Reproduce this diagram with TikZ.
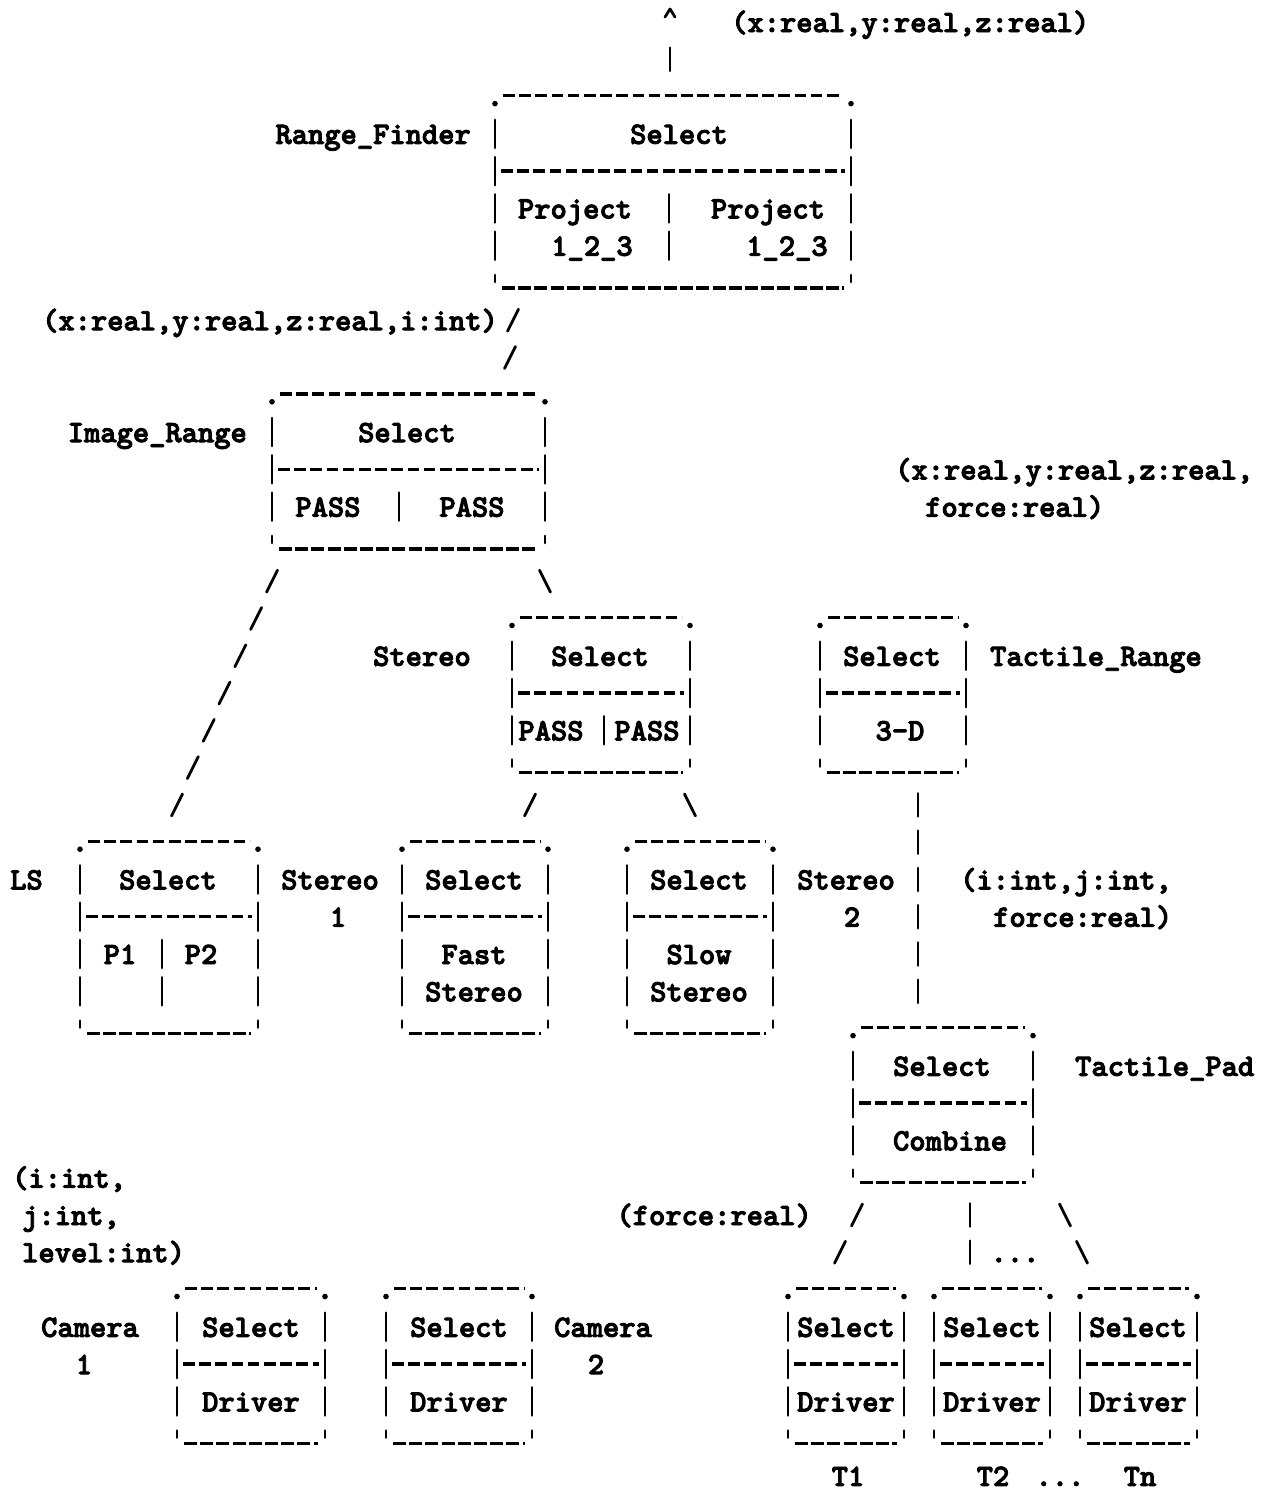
\documentclass[tikz,border=0pt]{standalone}
\usepackage{fontspec}
\newfontfamily\tyfont{lmmonolt10-bold}[Extension=.otf,FakeBold=3]
\usetikzlibrary{calc,fit}
\tikzset{
  gl/.style={line width=2.8pt, line cap=round},
  topdash/.style={line width=3.4pt, dash pattern=on 11.5pt off 4.7pt},
  botdash/.style={line width=3.4pt, dash pattern=on 13pt off 3.2pt},
  tx/.style={font=\tyfont\fontsize{31}{31}\selectfont, anchor=base, inner sep=0pt, yshift=-10pt},
  txw/.style={tx, anchor=base west},
  txe/.style={tx, anchor=base east},
  fslash/.pic={\draw[gl] (-5.5,11) -- (5.5,-11);},
  bslash/.pic={\draw[gl] (-5.5,-11) -- (5.5,11);},
  vbar/.pic={\draw[gl] (0,-11.5) -- (0,11.5);},
  caret/.pic={\draw[gl, line join=round] (-5,4) -- (0,-4) -- (5,4);},
}
% box: name, left x, right x, top y, number of row steps to bottom line
\newcommand\abox[5]{%
  \pgfmathsetmacro\ybot{#4+37.28*#5}%
  \pgfmathtruncatemacro\nrows{#5-1}%
  \coordinate (#1-nw) at (#2,#4);
  \coordinate (#1-se) at (#3,\ybot);
  \node[fit=(#1-nw)(#1-se), inner sep=0pt, outer sep=0pt] (#1) {};
  \draw[topdash] (#2+8,#4-1) -- (#3-8,#4-1);
  \fill (#2,#4+7) circle[radius=2.8pt] (#3,#4+7) circle[radius=2.8pt];
  \draw[botdash] (#2+7,\ybot+5) -- (#3-7,\ybot+5);
  \draw[gl] (#2,\ybot-8) -- (#2,\ybot-1) (#3,\ybot-8) -- (#3,\ybot-1);
  \foreach \k in {1,...,\nrows}{\draw[gl] (#2,#4+37.28*\k-14) -- (#2,#4+37.28*\k+14) (#3,#4+37.28*\k-14) -- (#3,#4+37.28*\k+14);}
}
\newcommand\adiv[2]{\draw[topdash] ($(#1.west|-0,#2)+(6,0)$) -- ($(#1.east|-0,#2)+(-6,0)$);}
\newcommand\ibar[2]{\draw[gl] (#1,#2-14) -- (#1,#2+14);}
\newcommand\grun[4]{\foreach \k in {0,...,#3}{\path ($(#1)!{\k/#3}!(#2)$) pic{#4};}}
\begin{document}
\begin{tikzpicture}[x=1pt,y=-1pt]
\fill[white] (0,0) rectangle (1265,1491);
\useasboundingbox (0,0) rectangle (1265,1491);

% ---------- output of Range_Finder
\coordinate (outcaret) at (670,13);
\coordinate (outbar) at (670,59.3);
\path (outcaret) pic{caret};
\path (outbar) pic{vbar};
\node[txw] (lab-out) at (731,22) {(x:real,y:real,z:real)};

% ---------- Range_Finder
\abox{rf}{495}{851}{96.6}{5}
\adiv{rf}{171.1}
\ibar{669}{208.4}\ibar{669}{245.7}
\node[txe] (lab-rf) at (471,133.8) {Range\_Finder};
\node[tx] (rf-sel) at (679,133.8) {Select};
\node[tx] (rf-p1) at (575,208.4) {Project};
\node[tx] (rf-p2) at (768,208.4) {Project};
\node[tx] (rf-n1) at (592,245.7) {1\_2\_3};
\node[tx] (rf-n2) at (787,245.7) {1\_2\_3};

\node[tx] (lab-rfin) at (270,320.2) {(x:real,y:real,z:real,i:int)};
\coordinate (a1) at (513,320.2);
\coordinate (a2) at (510,357.5);
\grun{a1}{a2}{1}{fslash}

% ---------- Image_Range
\abox{ir}{272}{545}{394.8}{4}
\adiv{ir}{469.4}
\ibar{399}{506.6}
\node[txe] (lab-ir) at (247,432.1) {Image\_Range};
\node[tx] (ir-sel) at (407,432.1) {Select};
\node[tx] (ir-p1) at (328,506.6) {PASS};
\node[tx] (ir-p2) at (472,506.6) {PASS};

\node[txw] (lab-trin1) at (895,469.4) {(x:real,y:real,z:real,};
\node[txw] (lab-trin2) at (925,506.6) {force:real)};

\coordinate (b1) at (272,581.2);
\coordinate (b2) at (177,804.9);
\grun{b1}{b2}{6}{fslash}
\coordinate (c1) at (545,581.2);
\path (c1) pic{bslash};

% ---------- Stereo
\abox{st}{512}{690}{618.5}{4}
\adiv{st}{693.0}
\ibar{604}{730.3}
\node[txe] (lab-st) at (471,655.8) {Stereo};
\node[tx] (st-sel) at (600,655.8) {Select};
\node[tx] (st-p1) at (551,730.3) {PASS};
\node[tx] (st-p2) at (647,730.3) {PASS};

% ---------- Tactile_Range
\abox{tr}{820}{966}{618.5}{4}
\adiv{tr}{693.0}
\node[tx] (tr-sel) at (892,655.8) {Select};
\node[tx] (tr-3d) at (900,730.3) {3-D};
\node[txw] (lab-tr) at (990,655.8) {Tactile\_Range};

\coordinate (d1) at (530,804.9);
\path (d1) pic{fslash};
\coordinate (e1) at (690,804.9);
\path (e1) pic{bslash};
\coordinate (f1) at (918,804.9);
\coordinate (f2) at (918,991.3);
\grun{f1}{f2}{5}{vbar}

% ---------- LS
\abox{ls}{80}{258}{842.2}{5}
\adiv{ls}{916.7}
\ibar{162}{954.0}\ibar{162}{991.3}
\node[txw] (lab-ls) at (10,879.4) {LS};
\node[tx] (ls-sel) at (168,879.4) {Select};
\node[tx] (ls-p1) at (120,954.0) {P1};
\node[tx] (ls-p2) at (201,954.0) {P2};

% ---------- Stereo 1 (fast)
\node[txw] (lab-s1a) at (281,879.4) {Stereo};
\node[tx] (lab-s1b) at (338,916.7) {1};
\abox{fs}{402}{548}{842.2}{5}
\adiv{fs}{916.7}
\node[tx] (fs-sel) at (474,879.4) {Select};
\node[tx] (fs-a) at (474,954.0) {Fast};
\node[tx] (fs-b) at (474,991.3) {Stereo};

% ---------- Stereo 2 (slow)
\abox{ss}{627}{773}{842.2}{5}
\adiv{ss}{916.7}
\node[tx] (ss-sel) at (699,879.4) {Select};
\node[tx] (ss-a) at (699,954.0) {Slow};
\node[tx] (ss-b) at (699,991.3) {Stereo};
\node[txw] (lab-s2a) at (797,879.4) {Stereo};
\node[tx] (lab-s2b) at (852,916.7) {2};

\node[txw] (lab-tpin1) at (960,879.4) {(i:int,j:int,};
\node[txw] (lab-tpin2) at (993,916.7) {force:real)};

% ---------- Tactile_Pad
\abox{tp}{853}{1033}{1028.6}{4}
\adiv{tp}{1103.1}
\node[tx] (tp-sel) at (942,1065.8) {Select};
\node[tx] (tp-c) at (950,1140.4) {Combine};
\node[txw] (lab-tp) at (1075,1065.8) {Tactile\_Pad};

\node[txw] (lab-cam1) at (12,1177.7) {(i:int,};
\node[txw] (lab-cam2) at (22,1215.0) {j:int,};
\node[txw] (lab-cam3) at (22,1252.2) {level:int)};

\node[txe] (lab-force) at (812,1215.0) {(force:real)};
\coordinate (g1) at (857,1215.0);
\coordinate (g2) at (840,1252.2);
\grun{g1}{g2}{1}{fslash}
\coordinate (h1) at (970,1215.0);
\coordinate (h2) at (970,1252.2);
\grun{h1}{h2}{1}{vbar}
\node[tx] (dots1) at (1015,1252.2) {...};
\coordinate (i1) at (1065,1215.0);
\coordinate (i2) at (1082,1252.2);
\grun{i1}{i2}{1}{bslash}

% ---------- Cameras
\abox{c1}{177}{325}{1289.5}{4}
\adiv{c1}{1364.1}
\node[tx] (c1-sel) at (251,1326.8) {Select};
\node[tx] (c1-drv) at (251,1401.4) {Driver};
\node[tx] (lab-c1a) at (90,1326.8) {Camera};
\node[tx] (lab-c1b) at (84,1364.1) {1};

\abox{c2}{386}{532}{1289.5}{4}
\adiv{c2}{1364.1}
\node[tx] (c2-sel) at (459,1326.8) {Select};
\node[tx] (c2-drv) at (459,1401.4) {Driver};
\node[tx] (lab-c2a) at (603,1326.8) {Camera};
\node[tx] (lab-c2b) at (596,1364.1) {2};

% ---------- Tactile drivers
\abox{t1}{788}{904}{1289.5}{4}
\adiv{t1}{1364.1}
\node[tx] (t1-sel) at (846,1326.8) {Select};
\node[tx] (t1-drv) at (846,1401.4) {Driver};
\node[tx] (lab-t1) at (848,1475.9) {T1};

\abox{t2}{934}{1050}{1289.5}{4}
\adiv{t2}{1364.1}
\node[tx] (t2-sel) at (992,1326.8) {Select};
\node[tx] (t2-drv) at (992,1401.4) {Driver};
\node[tx] (lab-t2) at (993,1475.9) {T2};

\abox{tn}{1080}{1197}{1289.5}{4}
\adiv{tn}{1364.1}
\node[tx] (tn-sel) at (1138,1326.8) {Select};
\node[tx] (tn-drv) at (1138,1401.4) {Driver};
\node[tx] (dots2) at (1060,1475.9) {...};
\node[tx] (lab-tn) at (1140,1475.9) {Tn};
\end{tikzpicture}
\end{document}
